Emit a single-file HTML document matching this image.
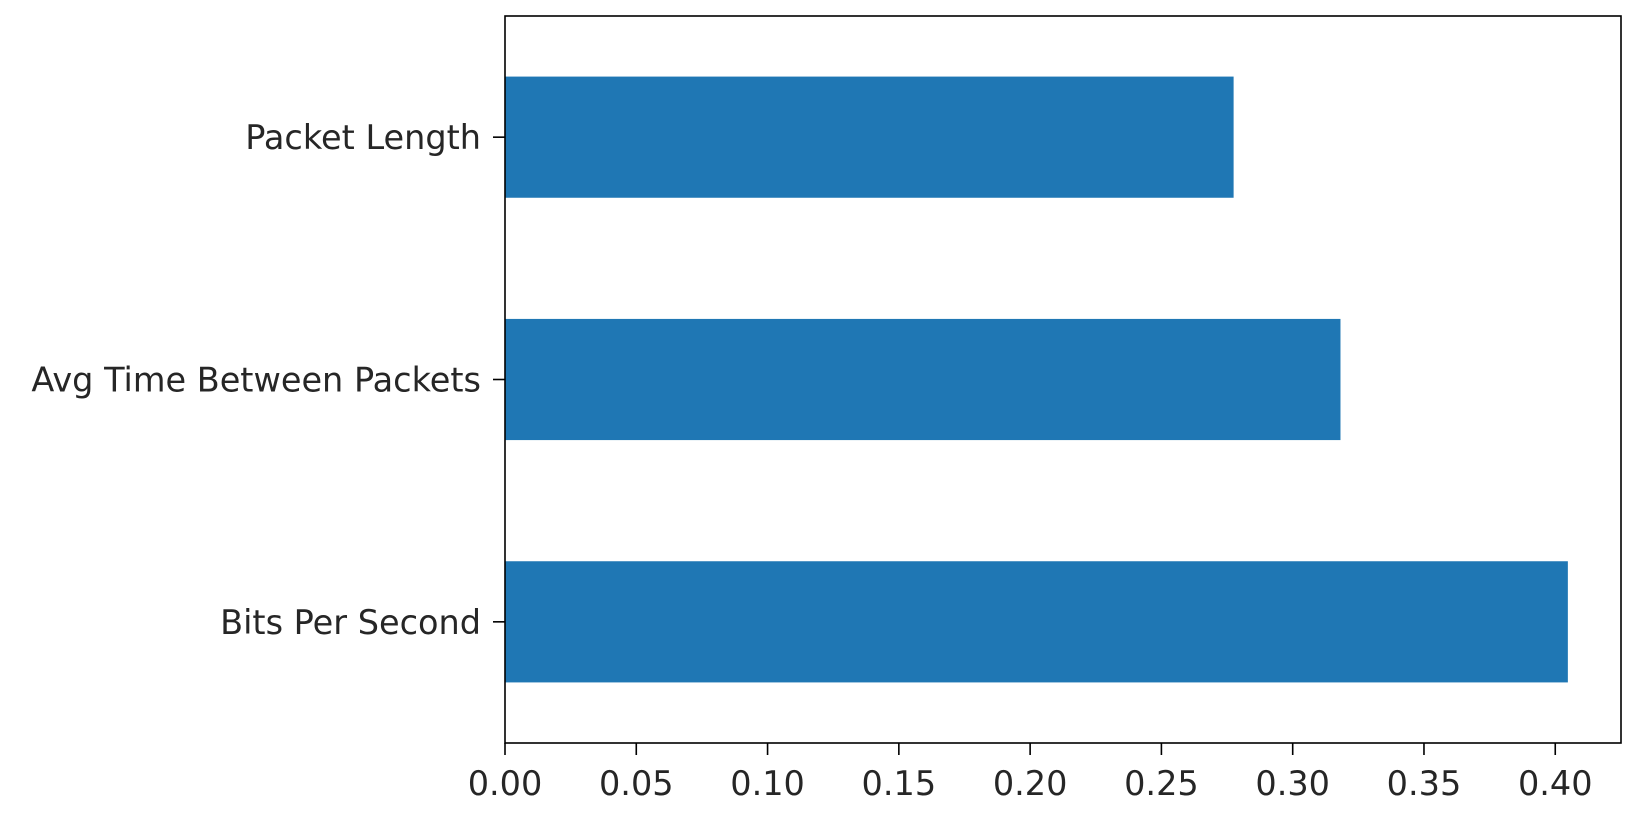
<!DOCTYPE html>
<html><head><meta charset="utf-8">
<style>
html,body{margin:0;padding:0;background:#fff;width:1644px;height:816px;overflow:hidden}
text{font-family:"DejaVu Sans","Liberation Sans",sans-serif;font-size:33.5px;fill:#262626}
</style></head>
<body>
<svg id="chart" width="1644" height="816" xmlns="http://www.w3.org/2000/svg"></svg>
<script>
const categories = ["Bits Per Second", "Avg Time Between Packets", "Packet Length"];
const values = [0.4048, 0.3182, 0.2775];
const xTicks = [0, 0.05, 0.10, 0.15, 0.20, 0.25, 0.30, 0.35, 0.40];
const xTickLabels = ["0.00","0.05","0.10","0.15","0.20","0.25","0.30","0.35","0.40"];

const L = 505, R = 1621, T = 16, B = 743;
const xMax = Math.max(...values) * 1.05;
const xs = v => L + (v / xMax) * (R - L);
const ys = i => B - (i + 0.5) / categories.length * (B - T);
const band = (B - T) / categories.length;
const svg = document.getElementById('chart');
const NS = "http://www.w3.org/2000/svg";
function mk(tag, attrs){const e=document.createElementNS(NS,tag);for(const k in attrs)e.setAttribute(k,attrs[k]);svg.appendChild(e);return e;}

values.forEach((v,i)=>{
  const r = mk('rect',{x:L,y:ys(i)-band*0.25,width:xs(v)-L,height:band*0.5,fill:'#1f77b4'});
  
  
  const t = mk('line',{x1:L-12,x2:L,y1:ys(i),y2:ys(i),stroke:'#000','stroke-width':1.6});
  
  
  const lb = mk('text',{x:L-24,y:ys(i)+12,'text-anchor':'end'});
  lb.textContent = categories[i];
  
  
});
xTicks.forEach((v,i)=>{
  const t = mk('line',{x1:xs(v),x2:xs(v),y1:B,y2:B+12,stroke:'#000','stroke-width':1.6});
  
  
  const lb = mk('text',{x:xs(v),y:B+52,'text-anchor':'middle'});
  lb.textContent = xTickLabels[i];
  
  
});
const frame = mk('rect',{x:L,y:T,width:R-L,height:B-T,fill:'none',stroke:'#000','stroke-width':1.6});


</script>
</body></html>
